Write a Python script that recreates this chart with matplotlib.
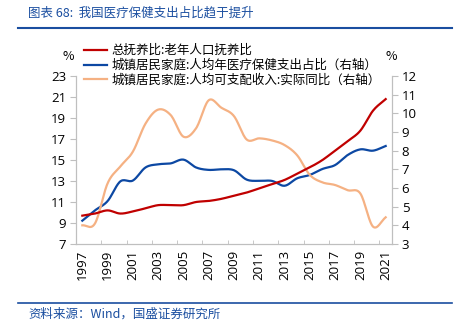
import numpy as np
import matplotlib
matplotlib.use('Agg')
import matplotlib.pyplot as plt

plt.rcParams['font.family'] = ['Noto Sans CJK SC', 'DejaVu Sans']

years = list(range(1997, 2022))
# 总抚养比:老年人口抚养比 (left axis)
old_age = [9.7, 9.9, 10.2, 9.9, 10.1, 10.4, 10.7, 10.7, 10.7, 11.0, 11.1, 11.3, 11.6,
           11.9, 12.3, 12.7, 13.1, 13.7, 14.3, 15.0, 15.9, 16.8, 17.8, 19.7, 20.8]
# 人均年医疗保健支出占比 (right axis)
health_share = [4.25, 4.8, 5.3, 6.35, 6.4, 7.1, 7.27, 7.32, 7.52, 7.1, 6.97, 7.0, 6.95,
                6.45, 6.38, 6.38, 6.12, 6.52, 6.7, 7.02, 7.23, 7.77, 8.07, 8.0, 8.25]
# 人均可支配收入:实际同比 (right axis)
income_growth = [4.0, 4.1, 6.25, 7.15, 7.95, 9.45, 10.2, 9.9, 8.75, 9.2, 10.7, 10.3, 9.85,
                 8.6, 8.66, 8.55, 8.3, 7.75, 6.7, 6.3, 6.16, 5.88, 5.7, 3.93, 4.43]

left_ticks = list(range(7, 24, 2))
right_ticks = list(range(3, 13))

red = '#c00000'
blue = '#0c48a3'
orange = '#f5b183'
navy = '#1a4ea0'


def smooth(y, n=16):
    # Catmull-Rom curve through the points, like Excel's smoothed lines
    y = np.asarray(y, float)
    p = np.concatenate([[2 * y[0] - y[1]], y, [2 * y[-1] - y[-2]]])
    xs, ys = [], []
    for i in range(len(y) - 1):
        t = np.linspace(0, 1, n, endpoint=False)
        p0, p1, p2, p3 = p[i], p[i + 1], p[i + 2], p[i + 3]
        v = 0.5 * ((2 * p1) + (-p0 + p2) * t + (2 * p0 - 5 * p1 + 4 * p2 - p3) * t ** 2
                   + (-p0 + 3 * p1 - 3 * p2 + p3) * t ** 3)
        xs.extend(i + t)
        ys.extend(v)
    xs.append(len(y) - 1)
    ys.append(y[-1])
    return np.array(xs), np.array(ys)


fig = plt.figure(figsize=(4.57, 3.26), dpi=100)
ax = fig.add_axes([76 / 457, 1 - 244 / 326, 316 / 457, 168 / 326])
ax2 = ax.twinx()
ax.set_zorder(ax2.get_zorder() + 1)
ax.patch.set_visible(False)

x, y = smooth(old_age)
l1, = ax.plot(x, y, color=red, lw=1.6)
x, y = smooth(health_share)
l2, = ax2.plot(x, y, color=blue, lw=1.6)
x, y = smooth(income_growth)
l3, = ax2.plot(x, y, color=orange, lw=1.6)

ax.set_xlim(-0.5, len(years) - 0.5)
ax.set_ylim(7, 23)
ax2.set_ylim(3, 12)
ax.set_yticks(left_ticks)
ax2.set_yticks(right_ticks)

ax.set_xticks(range(0, len(years), 2))
ax.set_xticklabels([str(v) for v in years[::2]], rotation=90)
ax.set_xticks(np.arange(1.5, len(years), 2), minor=True)
ax.tick_params(axis='x', which='major', length=0, pad=4, labelsize=9.5)
ax.tick_params(axis='x', which='minor', length=3, direction='in', color='#bfbfbf')
ax.tick_params(axis='y', length=4, color='#bfbfbf', labelsize=9.5, pad=3)
ax2.tick_params(axis='y', length=4, color='#bfbfbf', labelsize=9.5, pad=3)
for a in (ax, ax2):
    for s in a.spines.values():
        s.set_color('#bfbfbf')
    a.spines['top'].set_visible(False)
    for lab in a.get_xticklabels() + a.get_yticklabels():
        lab.set_family(['Open Sans', 'DejaVu Sans'])

fig.text(68 / 457, 1 - 56 / 326, '%', ha='center', va='center', fontsize=9)
fig.text(391 / 457, 1 - 56 / 326, '%', ha='center', va='center', fontsize=9)

fig.legend([l1, l2, l3],
           ['总抚养比:老年人口抚养比',
            '城镇居民家庭:人均年医疗保健支出占比（右轴）',
            '城镇居民家庭:人均可支配收入:实际同比（右轴）'],
           loc='upper left', bbox_to_anchor=(84 / 457, 1 - 44 / 326), frameon=False,
           fontsize=9, handlelength=1.8, handletextpad=0.4, labelspacing=0.15,
           borderaxespad=0, borderpad=0)

fig.text(28 / 457, 1 - 13 / 326, '图表 68:  我国医疗保健支出占比趋于提升', color=navy,
         fontsize=9, va='center', ha='left')
fig.add_artist(plt.Line2D([18 / 457, 452 / 457], [1 - 28 / 326, 1 - 28 / 326],
                          color=navy, lw=1.5))
fig.add_artist(plt.Line2D([18 / 457, 452 / 457], [1 - 303 / 326, 1 - 303 / 326],
                          color=navy, lw=1.2))
fig.text(28 / 457, 1 - 314 / 326, '资料来源：Wind，国盛证券研究所', color=navy,
         fontsize=9, va='center', ha='left')

fig.savefig('out.png', dpi=100)
